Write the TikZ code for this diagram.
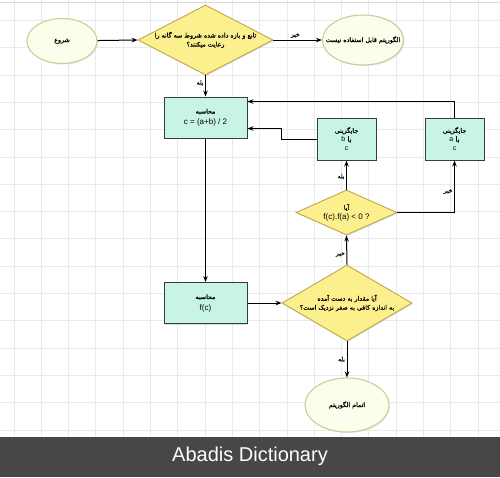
\documentclass[tikz,border=0pt]{standalone}
\usepackage{fontspec}
\setmainfont{Liberation Sans}
\newfontfamily\arabicfont[Script=Arabic,FakeBold=0.8]{DejaVu Sans}
\TeXXeTstate=1
\usetikzlibrary{shapes.geometric,arrows.meta,shadows}
\newcommand{\artx}[1]{{\arabicfont\beginR #1\endR}}
\definecolor{gridc}{HTML}{EAEAEA}
\definecolor{yfill}{HTML}{FCF08E}
\definecolor{ydraw}{HTML}{BFA84A}
\definecolor{mfill}{HTML}{C8F5E3}
\definecolor{mdraw}{HTML}{363E3A}
\definecolor{efill}{HTML}{FDFDEC}
\definecolor{edraw}{HTML}{C9CF98}
\definecolor{band}{HTML}{474747}
\tikzset{
  diam/.style={shape=diamond, fill=yfill, draw=ydraw, line width=0.9pt, inner sep=0pt, drop shadow={shadow xshift=1pt,shadow yshift=-1pt,fill=black!25}},
  mbox/.style={shape=rectangle, fill=mfill, draw=mdraw, line width=1pt, minimum width=83pt, minimum height=41pt, inner sep=1pt, align=center, font=\fontsize{8}{10}\selectfont, drop shadow={shadow xshift=1.2pt,shadow yshift=-1.2pt,fill=black!25}},
  ell/.style={shape=ellipse, fill=efill, draw=edraw, line width=1.1pt, inner sep=0pt, drop shadow={shadow xshift=1pt,shadow yshift=-1pt,fill=black!18}},
  txt/.style={align=center, inner sep=0pt, font=\fontsize{6.3}{9}\selectfont},
  lbl/.style={inner sep=1.5pt, font=\fontsize{6}{7}\selectfont},
  conn/.style={draw=black, line width=1pt, -{Stealth[length=6pt,width=4.5pt]}},
}
\begin{document}
\begin{tikzpicture}[x=1pt,y=-1pt]
\useasboundingbox (0,0) rectangle (500,477);
\fill[white] (0,0) rectangle (500,477);
\foreach \i in {0,...,18} \draw[gridc, line width=0.9pt] ({14+27.3*\i},0) -- ({14+27.3*\i},437);
\foreach \j in {0,...,15} \draw[gridc, line width=0.9pt] (0,{20.5+27.3*\j}) -- (500,{20.5+27.3*\j});
\draw[black!15, line width=0.8pt] (0,2) -- (500,2);

% nodes
\node[ell, minimum width=70pt, minimum height=45pt] (start) at (62,41) {};
\node[txt] at (start) {\artx{شروع}};

\node[diam, minimum width=135pt, minimum height=70pt] (d1) at (205.5,40) {};
\node[txt] at (d1) {\artx{تابع و بازه داده شده شروط سه گانه را}\\\artx{رعایت میکنند؟}};

\node[ell, minimum width=81pt, minimum height=50pt] (nouse) at (363,40) {};
\node[txt] at (nouse) {\artx{الگوریتم قابل استفاده نیست}};

\node[mbox] (box1) at (205.5,117.5) {\artx{\fontsize{6.3}{9}\selectfont محاسبه}\\[1pt] c = (a+b) / 2};

\node[mbox, minimum width=59pt, minimum height=42pt, font=\fontsize{7}{9}\selectfont] (boxb) at (346.5,139) {\artx{\fontsize{6.3}{9}\selectfont جایگزینی}\\\artx{با \fontsize{7}{9}\selectfont\rmfamily b}\\c};
\node[mbox, minimum width=59pt, minimum height=42pt, font=\fontsize{7}{9}\selectfont] (boxa) at (454.5,139) {\artx{\fontsize{6.3}{9}\selectfont جایگزینی}\\\artx{با \fontsize{7}{9}\selectfont\rmfamily a}\\c};

\node[diam, minimum width=101pt, minimum height=45pt] (d2) at (346.5,212.5) {};
\node[txt, font=\fontsize{8}{9.5}\selectfont] at (d2) {\artx{\fontsize{6.3}{9}\selectfont آیا}\\f(c).f(a) < 0 ?};

\node[mbox] (box2) at (205.5,303) {\artx{\fontsize{6.3}{9}\selectfont محاسبه}\\[1pt] f(c)};

\node[diam, minimum width=130pt, minimum height=76pt] (d3) at (347,303) {};
\node[txt] at (d3) {\artx{آیا مقدار به دست آمده}\\\artx{به اندازه کافی به صفر نزدیک است؟}};

\node[ell, minimum width=84pt, minimum height=54pt] (end) at (347,405) {};
\node[txt] at (end) {\artx{اتمام الگوریتم}};

% connectors
\draw[conn] (start) -- (d1.west);
\draw[conn] (d1.east) -- node[lbl, above, pos=0.45] {\artx{خیر}} (nouse.west);
\draw[conn] (d1.south) -- node[lbl, left, pos=0.35] {\artx{بله}} (box1.north);
\draw[conn] (box1.south) -- (box2.north);
\draw[conn] (box2.east) -- (d3.west);
\draw[conn] (d3.north) -- node[lbl, left, pos=0.35] {\artx{خیر}} (d2.south);
\draw[conn] (d3.south) -- node[lbl, left, pos=0.5] {\artx{بله}} (end.north);
\draw[conn] (d2.north) -- node[lbl, left, pos=0.45] {\artx{بله}} (boxb.south);
\draw[conn] (d2.east) -| node[lbl, left, pos=0.7] {\artx{خیر}} (boxa.south);
\draw[conn] (boxa.north) |- ([yshift=-5pt]box1.north east);
\draw[conn] (boxb.west) -- ++(-35,0) |- ([yshift=10pt]box1.south east);

% band
\fill[band] (0,437) rectangle (500,477);
\node[text=white, inner sep=0pt, font=\fontsize{20}{24}\selectfont] (brand) at (250,456) {Abadis Dictionary};
\end{tikzpicture}
\end{document}
